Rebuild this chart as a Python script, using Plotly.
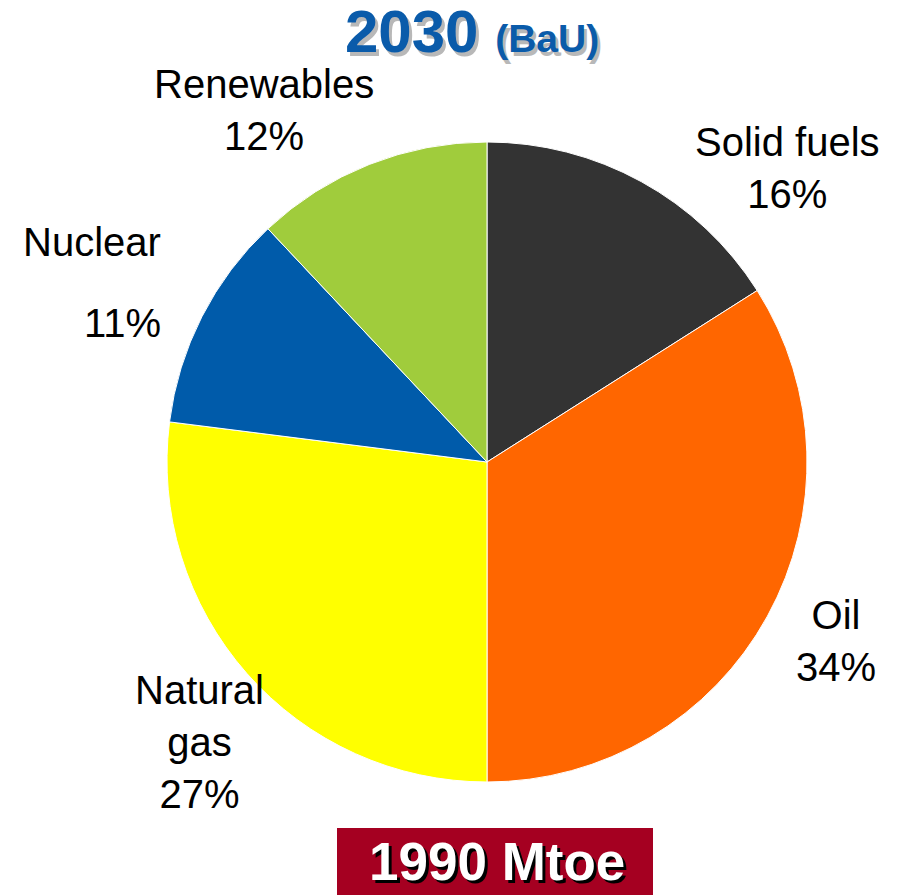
import plotly.graph_objects as go

W, H = 903, 895
OFF = 8  # default page body margin shifts the figure

labels = ["Solid fuels", "Oil", "Natural gas", "Nuclear", "Renewables"]
values = [16, 34, 27, 11, 12]
colors = ["#333333", "#FF6600", "#FFFF00", "#005BAA", "#A0CC3C"]
title_main = "2030"
title_sub = "(BaU)"
total_label = "1990 Mtoe"

FONT = "Liberation Sans, Arial, sans-serif"

def px(x, y):
    return (x - OFF) / W, 1 - (y - OFF) / H

cx0, cy1 = px(167, 142)
cx1, cy0 = px(807, 782)
fig = go.Figure(go.Pie(
    labels=labels, values=values, sort=False, direction="clockwise", rotation=0,
    marker=dict(colors=colors, line=dict(color="white", width=1)),
    textinfo="none", hoverinfo="label+percent", showlegend=False,
    domain=dict(x=[cx0, cx1], y=[cy0, cy1]),
))

anns = []
def add(text, x, y, size=40, color="black", xanchor="center"):
    ax, ay = px(x, y)
    anns.append(dict(text=text, x=ax, y=ay, xref="paper", yref="paper", showarrow=False,
                     xanchor=xanchor, yanchor="middle",
                     font=dict(family=FONT, size=size, color=color)))

# slice labels
add(f"{labels[0]}<br>{values[0]}%", 787, 168)
add(f"{labels[1]}<br>{values[1]}%", 836, 641)
add(f"Natural<br>gas<br>{values[2]}%", 199, 742)
add(labels[3], 92, 242)
add(f"{values[3]}%", 122, 323)
add(f"{labels[4]}<br>{values[4]}%", 264, 110)

# title with shadow
title_txt = f"<b>{title_main} <span style='font-size:39px'>{title_sub}</span></b>"
add(title_txt, 475, 35, size=60, color="#B8B8B8")
add(title_txt, 472, 32, size=60, color="#0A5BAA")

# bottom box
bx0, by1 = px(337, 828)
bx1, by0 = px(653, 910)
fig.add_shape(type="rect", xref="paper", yref="paper",
              x0=bx0, x1=bx1, y0=by0, y1=by1,
              fillcolor="#A50021", line=dict(width=0), layer="above")
box_txt = f"<b>{total_label}</b>"
add(box_txt, 500, 864, size=53, color="black")
add(box_txt, 497, 861, size=53, color="white")

fig.update_layout(width=W, height=H, margin=dict(l=0, r=0, t=0, b=0),
                  paper_bgcolor="white", plot_bgcolor="white", annotations=anns)
fig.write_html("out.html")
